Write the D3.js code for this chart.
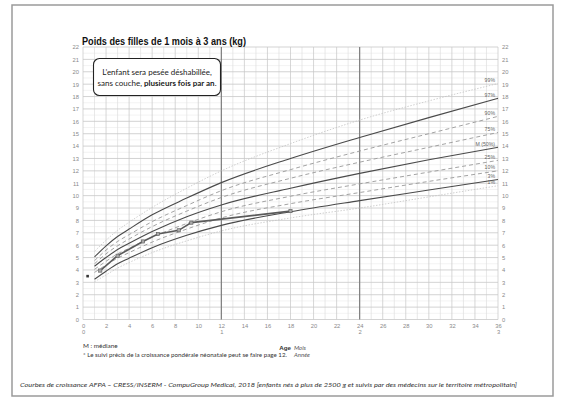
<!DOCTYPE html>
<html>
<head>
<meta charset="utf-8">
<script src="https://cdn.jsdelivr.net/npm/d3@7"></script>
<style>
  body { margin: 0; background: #fff; }
  svg { display: block; }
</style>
</head>
<body>
<div class="canva"></div>
<script>
// chart data
const months = [1, 2, 3, 4, 6, 9, 12, 18, 24, 30, 36];
const p99 = [5.5, 6.4, 7.2, 7.85, 9.05, 10.6, 12.0, 14.2, 16.1, 17.65, 19.05];
const p97 = [5.05, 5.95, 6.7, 7.3, 8.45, 9.8, 11.05, 13.0, 14.7, 16.3, 17.85];
const p90 = [4.75, 5.6, 6.3, 6.85, 7.9, 9.2, 10.4, 12.1, 13.6, 15.0, 16.4];
const p75 = [4.5, 5.3, 5.95, 6.5, 7.5, 8.75, 9.85, 11.4, 12.7, 13.9, 15.1];
const p50 = [4.3, 5.0, 5.65, 6.15, 7.1, 8.3, 9.25, 10.6, 11.8, 12.9, 13.9];
const p25 = [4.05, 4.7, 5.3, 5.75, 6.65, 7.75, 8.7, 9.95, 10.95, 11.9, 12.85];
const p10 = [3.8, 4.4, 4.95, 5.4, 6.25, 7.3, 8.2, 9.35, 10.25, 11.15, 12.0];
const p3 = [3.25, 3.9, 4.5, 4.95, 5.8, 6.8, 7.6, 8.7, 9.6, 10.45, 11.3];
const p1 = [3.05, 3.6, 4.15, 4.6, 5.4, 6.35, 7.15, 8.2, 9.0, 9.9, 10.8];
const curveNames = ["99%", "97%", "90%", "75%", "M (50%)", "25%", "10%", "3%", "1%"];

// child measurements
const childMonths = [1.5, 3, 5.2, 6.5, 8.3, 9.4, 18];
const childKg = [3.95, 5.15, 6.3, 6.9, 7.2, 7.82, 8.75];
const birthMonth = [0.4];
const birthKg = [3.5];

// ticks
const monthTicks = [0, 2, 4, 6, 8, 10, 12, 14, 16, 18, 20, 22, 24, 26, 28, 30, 32, 34, 36];
const yearTicks = [0, 12, 24, 36];
const yearLabels = ["0", "1", "2", "3"];
const kgTicks = [0, 1, 2, 3, 4, 5, 6, 7, 8, 9, 10, 11, 12, 13, 14, 15, 16, 17, 18, 19, 20, 21, 22];

const W = 562, H = 399;
const svg = d3.select(".canva").append("svg")
              .attr("width", W)
              .attr("height", H);

const x = d3.scaleLinear().domain([0, 36]).range([83, 498]);
const y = d3.scaleLinear().domain([0, 22]).range([319.5, 47]);

// page frame
svg.append("rect")
   .attr("x", 12).attr("y", 5)
   .attr("width", 541).attr("height", 391)
   .attr("fill", "none")
   .attr("stroke", "#9a9a9a")
   .attr("stroke-width", 1.5);

// grid
const grid = svg.append("g");
grid.selectAll(".hmin").data(d3.range(0.5, 22, 1))
    .enter().append("line")
    .attr("x1", x(0)).attr("x2", x(36))
    .attr("y1", d => y(d)).attr("y2", d => y(d))
    .attr("stroke", "#ebebeb").attr("stroke-width", 0.6);
grid.selectAll(".vmin").data(d3.range(0, 37, 1))
    .enter().append("line")
    .attr("y1", y(0)).attr("y2", y(22))
    .attr("x1", d => x(d)).attr("x2", d => x(d))
    .attr("stroke", d => d % 2 === 0 ? "#c6c6c6" : "#e0e0e0")
    .attr("stroke-width", 0.7);
grid.selectAll(".hmaj").data(kgTicks)
    .enter().append("line")
    .attr("x1", x(0)).attr("x2", x(36))
    .attr("y1", d => y(d)).attr("y2", d => y(d))
    .attr("stroke", "#c8c8c8").attr("stroke-width", 0.8);
grid.selectAll(".vyear").data([12, 24])
    .enter().append("line")
    .attr("y1", y(0)).attr("y2", y(22))
    .attr("x1", d => x(d)).attr("x2", d => x(d))
    .attr("stroke", "#777").attr("stroke-width", 1.1);

// axes
const tickFont = (g) => {
  g.select(".domain").remove();
  g.selectAll("text").attr("fill", "#8a8a8a")
   .attr("font-family", "Liberation Sans, Arial, sans-serif")
   .attr("font-size", 5.8);
};
svg.append("g").attr("transform", `translate(${x(0) - 2},0)`)
   .call(d3.axisLeft(y).tickValues(kgTicks).tickSize(0).tickPadding(2))
   .call(tickFont);
svg.append("g").attr("transform", `translate(${x(36) + 2},0)`)
   .call(d3.axisRight(y).tickValues(kgTicks).tickSize(0).tickPadding(2))
   .call(tickFont);
svg.append("g").attr("transform", `translate(0,${y(0) + 1})`)
   .call(d3.axisBottom(x).tickValues(monthTicks).tickSize(0).tickPadding(3))
   .call(tickFont);
svg.append("g").attr("transform", `translate(0,${y(0) + 7})`)
   .call(d3.axisBottom(x).tickValues(yearTicks).tickSize(0).tickPadding(3)
         .tickFormat((d, i) => yearLabels[i]))
   .call(tickFont);

// percentile curves
const series = [p99, p97, p90, p75, p50, p25, p10, p3, p1];
const styles = [
  {stroke: "#c4c4c4", width: 0.8, dash: "1.5,1.5"},
  {stroke: "#4a4a4a", width: 1.1, dash: null},
  {stroke: "#999", width: 0.9, dash: "4,3"},
  {stroke: "#999", width: 0.9, dash: "4,3"},
  {stroke: "#4a4a4a", width: 1.1, dash: null},
  {stroke: "#999", width: 0.9, dash: "4,3"},
  {stroke: "#999", width: 0.9, dash: "4,3"},
  {stroke: "#4a4a4a", width: 1.1, dash: null},
  {stroke: "#c4c4c4", width: 0.8, dash: "1.5,1.5"}
];
const line = d3.line()
               .x(d => x(d[0]))
               .y(d => y(d[1]))
               .curve(d3.curveMonotoneX);

svg.selectAll(".pct").data(series)
   .enter().append("path")
   .attr("d", s => line(months.map((m, i) => [m, s[i]])))
   .attr("fill", "none")
   .attr("stroke", (s, i) => styles[i].stroke)
   .attr("stroke-width", (s, i) => styles[i].width)
   .attr("stroke-dasharray", (s, i) => styles[i].dash);

svg.selectAll(".pctlabel").data(series)
   .enter().append("text")
   .text((s, i) => curveNames[i])
   .attr("x", x(36) - 3)
   .attr("y", s => y(s[s.length - 1]) - 1.5)
   .attr("text-anchor", "end")
   .attr("font-family", "Liberation Sans, Arial, sans-serif")
   .attr("font-size", 5.2)
   .attr("fill", "#666");

// child curve
const childPts = childMonths.map((m, i) => [m, childKg[i]]);
svg.append("path")
   .attr("d", d3.line().x(d => x(d[0])).y(d => y(d[1]))(childPts))
   .attr("fill", "none")
   .attr("stroke", "#5a5a5a")
   .attr("stroke-width", 1.6);
svg.selectAll(".pt").data(childPts)
   .enter().append("rect")
   .attr("x", d => x(d[0]) - 1.6)
   .attr("y", d => y(d[1]) - 1.6)
   .attr("width", 3.2).attr("height", 3.2)
   .attr("fill", "#aaa")
   .attr("stroke", "#555")
   .attr("stroke-width", 0.6);
svg.selectAll(".birth").data(birthMonth)
   .enter().append("rect")
   .attr("x", (d, i) => x(d) - 1.3)
   .attr("y", (d, i) => y(birthKg[i]) - 1.3)
   .attr("width", 2.6).attr("height", 2.6)
   .attr("fill", "#333");

// title
svg.append("text")
   .text("Poids des filles de 1 mois à 3 ans (kg)")
   .attr("x", 82).attr("y", 44.5)
   .attr("font-family", "Liberation Sans, Arial, sans-serif")
   .attr("font-size", 11)
   .attr("font-weight", "bold")
   .attr("fill", "#111")
   .attr("textLength", 164)
   .attr("lengthAdjust", "spacingAndGlyphs");

// note box
svg.append("rect")
   .attr("x", 93.5).attr("y", 58.5)
   .attr("width", 127).attr("height", 37)
   .attr("rx", 6).attr("ry", 6)
   .attr("fill", "#fff")
   .attr("stroke", "#222")
   .attr("stroke-width", 1.1);
const box = svg.append("text")
   .attr("font-family", "Lato, Open Sans, sans-serif")
   .attr("font-size", 8)
   .attr("fill", "#222")
   .attr("text-anchor", "middle");
box.append("tspan").attr("x", 157).attr("y", 75)
   .text("L’enfant sera pesée déshabillée,");
const l2 = box.append("tspan").attr("x", 157).attr("y", 86);
l2.append("tspan").text("sans couche, ");
l2.append("tspan").attr("font-weight", "bold").text("plusieurs fois par an");
l2.append("tspan").text(".");

// axis title
svg.append("text").text("Age")
   .attr("x", 291).attr("y", 350)
   .attr("text-anchor", "end")
   .attr("font-family", "Liberation Sans, Arial, sans-serif")
   .attr("font-size", 6.2).attr("font-weight", "bold")
   .attr("fill", "#333");
svg.append("text").text("Mois")
   .attr("x", 294).attr("y", 350)
   .attr("font-family", "Lato, sans-serif").attr("font-style", "italic")
   .attr("font-size", 6).attr("fill", "#555");
svg.append("text").text("Année")
   .attr("x", 294).attr("y", 357)
   .attr("font-family", "Lato, sans-serif").attr("font-style", "italic")
   .attr("font-size", 6).attr("fill", "#555");

// notes
svg.append("text").text("M : médiane")
   .attr("x", 83).attr("y", 348)
   .attr("font-family", "Lato, sans-serif")
   .attr("font-size", 6.4).attr("fill", "#333");
svg.append("text").text("* Le suivi précis de la croissance pondérale néonatale peut se faire page 12.")
   .attr("x", 83).attr("y", 357)
   .attr("font-family", "Lato, sans-serif")
   .attr("font-size", 6).attr("fill", "#333")
   .attr("textLength", 204)
   .attr("lengthAdjust", "spacingAndGlyphs");

// footer
svg.append("text")
   .text("Courbes de croissance  AFPA – CRESS/INSERM - CompuGroup Medical, 2018 [enfants nés à plus de 2500 g et suivis par des médecins sur le territoire métropolitain]")
   .attr("x", 20).attr("y", 387)
   .attr("font-family", "Lato, sans-serif")
   .attr("font-style", "italic")
   .attr("font-size", 6.4).attr("fill", "#333")
   .attr("textLength", 497)
   .attr("lengthAdjust", "spacingAndGlyphs");
</script>
</body>
</html>
